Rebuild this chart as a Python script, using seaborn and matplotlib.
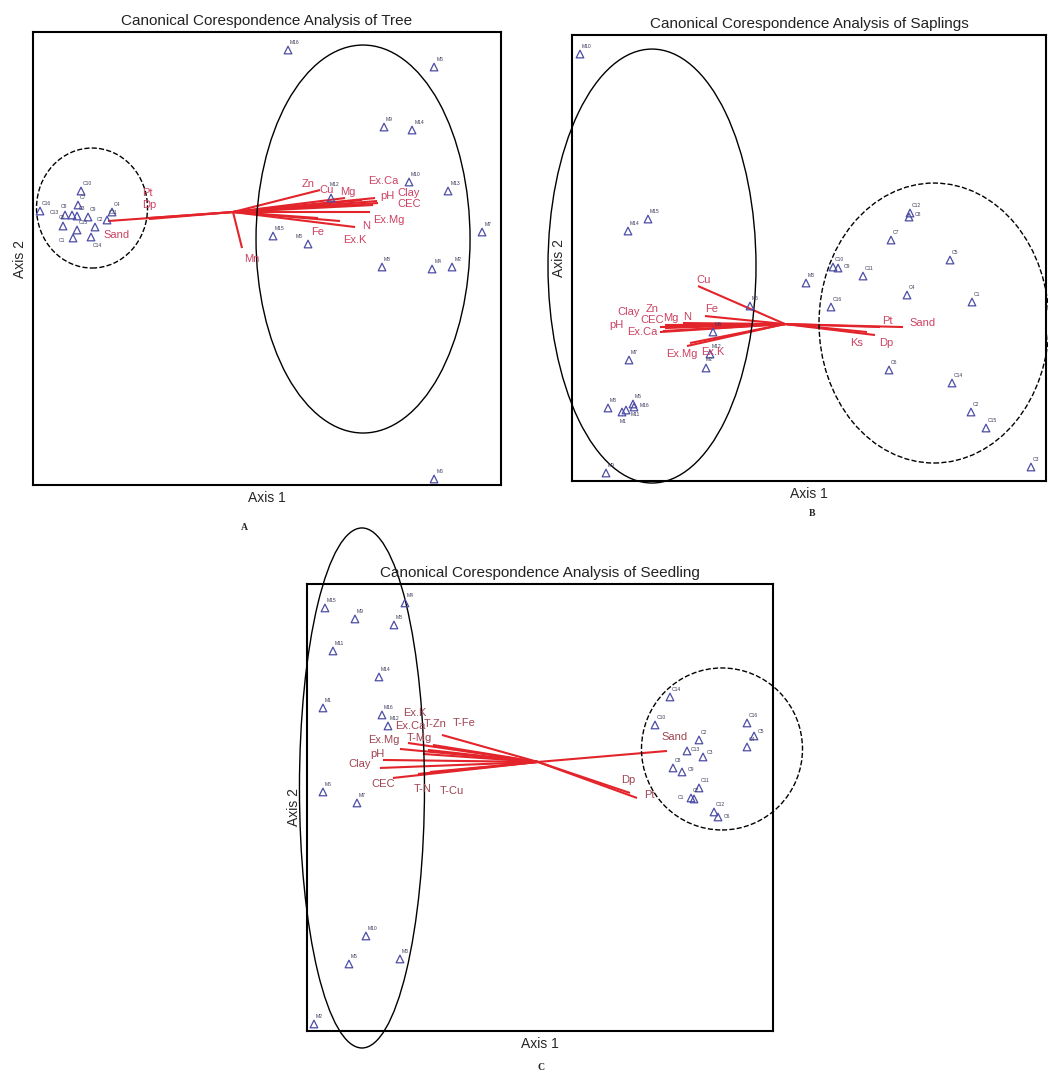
import matplotlib
matplotlib.use("Agg")
import numpy as np
import pandas as pd
import matplotlib.pyplot as plt
from matplotlib.patches import Ellipse
import seaborn as sns

# --- A: trees (site scores) ---
tree_sites = ["M16", "M5", "M9", "M14", "M12", "M10", "M13", "M7", "M15", "M3",
              "M8", "M4", "M2", "M6",
              "C16", "C10", "C7", "C13", "C8", "C3", "C6", "C9", "C2", "C15",
              "C1", "C14", "C4", "C11"]
tree_ax1 = [0.55, 2.01, 1.51, 1.79, 0.98, 1.76, 2.15, 2.49, 0.40, 0.75,
            1.49, 1.99, 2.19, 2.01,
            -1.93, -1.52, -1.55, -1.68, -1.61, -1.56, -1.70, -1.45, -1.38, -1.56,
            -1.60, -1.42, -1.21, -1.26]
tree_ax2 = [1.62, 1.45, 0.85, 0.82, 0.14, 0.30, 0.21, -0.20, -0.24, -0.32,
            -0.55, -0.57, -0.55, -2.67,
            0.01, 0.21, 0.07, -0.03, -0.03, -0.04, -0.14, -0.05, -0.15, -0.18,
            -0.26, -0.25, 0.00, -0.08]
tree_vars = ["Zn", "Cu", "Mg", "Ex.Ca", "pH", "Clay", "CEC", "Ex.Mg", "N",
             "Ex.K", "Fe", "Mn", "Sand", "Pt", "Dp"]
tree_end1 = [0.87, 1.12, 1.29, 1.42, 1.44, 1.45, 1.40, 1.37, 1.22, 1.07, 0.85,
             0.09, -1.25, -0.85, -0.84]
tree_end2 = [0.22, 0.14, 0.12, 0.14, 0.11, 0.09, 0.07, 0.00, -0.15, -0.09,
             -0.06, -0.36, -0.09, -0.06, -0.07]
tree_lab1 = [0.75, 0.94, 1.15, 1.50, 1.54, 1.76, 1.76, 1.56, 1.33, 1.22, 0.85,
             0.19, -1.16, -0.86, -0.84]
tree_lab2 = [0.28, 0.22, 0.20, 0.31, 0.16, 0.19, 0.08, -0.08, -0.14, -0.28,
             -0.20, -0.47, -0.23, 0.19, 0.07]

# --- B: saplings ---
sap_sites = ["M10", "M15", "M14", "M3", "M6", "M4", "M12", "M2", "M7", "M8",
             "M11", "M1", "M5", "M16", "M9",
             "C12", "C8", "C7", "C5", "C10", "C9", "C11", "C4", "C1", "C16",
             "C6", "C14", "C2", "C15", "C3"]
sap_ax1 = [-2.05, -1.37, -1.57, 0.21, -0.35, -0.72, -0.75, -0.79, -1.56, -1.77,
           -1.59, -1.63, -1.52, -1.51, -1.79,
           1.25, 1.24, 1.06, 1.65, 0.48, 0.53, 0.78, 1.22, 1.87, 0.46,
           1.04, 1.67, 1.86, 2.01, 2.46]
sap_ax2 = [2.70, 1.05, 0.93, 0.41, 0.18, -0.08, -0.30, -0.44, -0.36, -0.84,
           -0.86, -0.88, -0.80, -0.83, -1.49,
           1.11, 1.07, 0.84, 0.64, 0.57, 0.56, 0.48, 0.29, 0.22, 0.17,
           -0.46, -0.59, -0.88, -1.04, -1.43]
sap_vars = ["Cu", "Fe", "N", "Mg", "CEC", "Zn", "Clay", "pH", "Ex.Ca",
            "Ex.Mg", "Ex.K", "Pt", "Sand", "Ks", "Dp"]
sap_end1 = [-0.87, -0.80, -1.02, -1.10, -1.20, -1.20, -1.25, -1.22, -1.25,
            -0.98, -0.95, 0.95, 1.18, 0.82, 0.90]
sap_end2 = [0.38, 0.08, 0.01, -0.02, -0.04, -0.01, -0.03, -0.07, -0.08,
            -0.22, -0.19, -0.03, -0.03, -0.08, -0.11]
sap_lab1 = [-0.81, -0.73, -0.98, -1.14, -1.33, -1.33, -1.56, -1.69, -1.43,
            -1.03, -0.72, 1.02, 1.38, 0.72, 1.01]
sap_lab2 = [0.44, 0.15, 0.07, 0.06, 0.04, 0.15, 0.12, -0.01, -0.08,
            -0.30, -0.28, 0.03, 0.01, -0.19, -0.19]

# --- C: seedlings ---
seed_sites = ["M15", "M9", "M4", "M8", "M11", "M14", "M1", "M16", "M12", "M6",
              "M7", "M10", "M5", "M3", "M2",
              "C14", "C10", "C16", "C5", "C4", "C2", "C13", "C3", "C8", "C9",
              "C11", "C7", "C1", "C12", "C6"]
seed_ax1 = [-2.13, -1.83, -1.33, -1.44, -2.05, -1.59, -2.15, -1.56, -1.50, -2.15,
            -1.81, -1.72, -1.89, -1.38, -2.24,
            1.32, 1.17, 2.09, 2.16, 2.09, 1.61, 1.49, 1.65, 1.35, 1.44,
            1.61, 1.53, 1.56, 1.76, 1.80]
seed_ax2 = [1.54, 1.43, 1.59, 1.37, 1.11, 0.85, 0.54, 0.47, 0.36, -0.30,
            -0.41, -1.74, -2.02, -1.97, -2.62,
            0.65, 0.37, 0.39, 0.26, 0.15, 0.22, 0.11, 0.05, -0.06, -0.10,
            -0.26, -0.36, -0.37, -0.50, -0.55]
seed_vars = ["T-Fe", "T-Zn", "Ex.K", "Ex.Ca", "T-Mg", "Ex.Mg", "pH", "Clay",
             "CEC", "T-N", "T-Cu", "Sand", "Dp", "Pt"]
seed_end1 = [-0.96, -1.05, -1.10, -1.15, -1.30, -1.38, -1.55, -1.58, -1.45,
             -1.20, -1.08, 1.29, 0.92, 0.99]
seed_end2 = [0.27, 0.17, 0.12, 0.08, 0.19, 0.13, 0.02, -0.06, -0.16,
             -0.12, -0.10, 0.11, -0.31, -0.36]
seed_lab1 = [-0.74, -1.03, -1.23, -1.28, -1.19, -1.54, -1.61, -1.78, -1.55,
             -1.15, -0.86, 1.37, 0.90, 1.11]
seed_lab2 = [0.39, 0.38, 0.49, 0.36, 0.24, 0.22, 0.08, -0.02, -0.22,
             -0.27, -0.29, 0.25, -0.18, -0.33]

SITE_COL = "#4c4ca6"
LINE_COL = "#e3242b"

# site labels that sit somewhere other than above-right of their triangle
LABEL_SHIFT = {
    ("A", "M3"): (-9, 4), ("A", "C8"): (-8, 5), ("A", "C13"): (-11, 1),
    ("A", "C6"): (-3, 5), ("A", "C1"): (-10, -3), ("A", "C14"): (1, -7),
    ("A", "M12"): (-1, 9),
    ("B", "C9"): (4, 0), ("B", "C8"): (4, 1), ("B", "M1"): (-2, -8),
    ("B", "M11"): (3, -4), ("B", "M16"): (4, 0), ("B", "M2"): (0, 5),
    ("C", "C1"): (-12, 0), ("C", "C13"): (3, 0), ("C", "C6"): (4, -1),
    ("C", "C3"): (3, 2), ("C", "C9"): (4, 1), ("C", "C5"): (3, 2),
}

sns.set_style("white")
plt.rcParams["font.family"] = ["Liberation Sans", "DejaVu Sans"]

fig = plt.figure(figsize=(10.48, 10.79), dpi=100)


def draw_panel(ax, tag, sites, a1, a2, names, e1, e2, l1, l2, lab_col, title,
               xlim, ylim, ellipses):
    df = pd.DataFrame({"site": sites, "axis1": a1, "axis2": a2})
    for n, x1, y1 in zip(names, e1, e2):
        ax.plot([0, x1], [0, y1], color=LINE_COL, lw=1.5, zorder=2,
                solid_capstyle="butt")
    sns.scatterplot(data=df, x="axis1", y="axis2", marker="^", s=30,
                    color=SITE_COL, facecolor="none", edgecolor=SITE_COL,
                    linewidth=0.9, ax=ax, zorder=4, legend=False)
    for _, r in df.iterrows():
        off = LABEL_SHIFT.get((tag, r["site"]), (1.5, 4.5))
        ax.annotate(r["site"], (r["axis1"], r["axis2"]), xytext=off,
                    textcoords="offset points", fontsize=3.6,
                    color="#3a3a5a", zorder=5)
    for n, x, y in zip(names, l1, l2):
        ax.text(x, y, n, color=lab_col, fontsize=8, ha="center",
                va="center", zorder=5)
    for cx, cy, w, h, ls in ellipses:
        ax.add_patch(Ellipse((cx, cy), w, h, fill=False, ec="black",
                             lw=1.0, ls=ls, clip_on=False, zorder=3))
    ax.set_xlim(*xlim)
    ax.set_ylim(*ylim)
    ax.set_xticks([])
    ax.set_yticks([])
    ax.set_xlabel("Axis 1", fontsize=10, labelpad=4)
    ax.set_ylabel("Axis 2", fontsize=10, labelpad=4)
    ax.set_title(title, fontsize=11, pad=5, color="#222222")
    for sp in ax.spines.values():
        sp.set_color("black")
        sp.set_linewidth(1.5)


ax_a = fig.add_axes([0.0315, 0.5505, 0.4466, 0.4198])
draw_panel(ax_a, "A", tree_sites, tree_ax1, tree_ax2, tree_vars, tree_end1,
           tree_end2, tree_lab1, tree_lab2, "#cc4262",
           "Canonical Corespondence Analysis of Tree",
           (-2.00, 2.68), (-2.73, 1.80),
           [(-1.41, 0.04, 1.11, 1.20, "--"), (1.30, -0.27, 2.14, 3.88, "-")])

ax_b = fig.add_axes([0.5458, 0.5542, 0.4523, 0.4133])
draw_panel(ax_b, "B", sap_sites, sap_ax1, sap_ax2, sap_vars, sap_end1, sap_end2,
           sap_lab1, sap_lab2, "#cc4262",
           "Canonical Corespondence Analysis of Saplings",
           (-2.13, 2.61), (-1.57, 2.89),
           [(1.49, 0.01, 2.30, 2.80, "--"), (-1.33, 0.58, 2.08, 4.34, "-")])

ax_c = fig.add_axes([0.2929, 0.0445, 0.4447, 0.4143])
draw_panel(ax_c, "C", seed_sites, seed_ax1, seed_ax2, seed_vars, seed_end1,
           seed_end2, seed_lab1, seed_lab2, "#9e4452",
           "Canonical Corespondence Analysis of Seedling",
           (-2.31, 2.35), (-2.69, 1.78),
           [(1.84, 0.13, 1.61, 1.62, "--"), (-1.76, -0.26, 1.25, 5.20, "-")])

for lbl, fx, fy in [("A", 244, 527), ("B", 812, 513), ("C", 541, 1068)]:
    fig.text(fx / 1048, 1 - fy / 1079, lbl, fontsize=7, fontweight="bold",
             ha="center", va="center", family=["Liberation Serif", "DejaVu Serif"])

fig.savefig("out.png", dpi=100)
